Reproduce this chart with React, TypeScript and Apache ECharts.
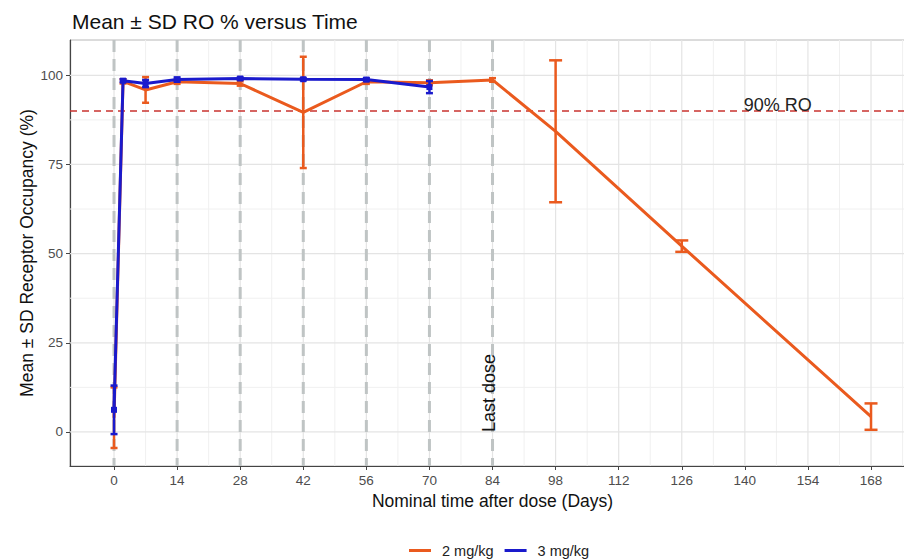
import React, { useEffect, useRef } from "react";
import * as echarts from "echarts";

// ---- Data ----
const days2mg = [0, 2, 7, 14, 28, 42, 56, 70, 84, 98, 126, 168];
const mean2mg = [4, 98.3, 95.9, 98.2, 97.7, 89.6, 98.2, 97.9, 98.7, 84.3, 52.1, 4.3];
const sd2mg = [8.5, 0.6, 3.6, 0.6, 0.6, 15.6, 0.6, 0.7, 0.5, 19.9, 1.6, 3.7];

const days3mg = [0, 2, 7, 14, 28, 42, 56, 70];
const mean3mg = [6.2, 98.5, 97.7, 98.8, 99.1, 98.9, 98.8, 96.7];
const sd3mg = [6.8, 0.4, 1.0, 0.6, 0.3, 0.3, 0.4, 1.7];

const xMajorTicks = [0, 14, 28, 42, 56, 70, 84, 98, 112, 126, 140, 154, 168];
const xMinorTicks = [7, 21, 35, 49, 63, 77, 91, 105, 119, 133, 147, 161, 175];
const yMajorTicks = [0, 25, 50, 75, 100];
const yMinorTicks = [12.5, 37.5, 62.5, 87.5];
const doseDays = [0, 14, 28, 42, 56, 70, 84];
const roThreshold = 90;
const lastDoseDay = 84;

const seriesNames = ["2 mg/kg", "3 mg/kg"];
const COLOR_2 = "#EA5A1E";
const COLOR_3 = "#1A1ACC";

const X_MIN = -9.77;
const X_MAX = 177.76;
const Y_MIN = -9.55;
const Y_MAX = 109.9;

const FONT = "'Liberation Sans', Arial, Helvetica, sans-serif";

function vLines(name: string, values: number[], color: string, width: number, dash?: number[], z = 1) {
  return {
    type: "custom",
    name,
    silent: true,
    z,
    clip: true,
    data: values.map((v) => [v, 0]),
    encode: { x: 0, y: 1 },
    renderItem: (params: any, api: any) => {
      const cs = params.coordSys;
      const x = api.coord([api.value(0), 0])[0];
      return {
        type: "line",
        shape: { x1: x, y1: cs.y, x2: x, y2: cs.y + cs.height },
        style: { stroke: color, lineWidth: width, lineDash: dash || null },
      };
    },
  };
}

function hLines(name: string, values: number[], color: string, width: number, dash?: number[], z = 1) {
  return {
    type: "custom",
    name,
    silent: true,
    z,
    clip: true,
    data: values.map((v) => [0, v]),
    encode: { x: 0, y: 1 },
    renderItem: (params: any, api: any) => {
      const cs = params.coordSys;
      const y = api.coord([0, api.value(1)])[1];
      return {
        type: "line",
        shape: { x1: cs.x, y1: y, x2: cs.x + cs.width, y2: y },
        style: { stroke: color, lineWidth: width, lineDash: dash || null },
      };
    },
  };
}

function errorBars(name: string, days: number[], means: number[], sds: number[], color: string, z: number) {
  return {
    type: "custom",
    name,
    silent: true,
    z,
    data: days.map((d, i) => [d, means[i] - sds[i], means[i] + sds[i]]),
    encode: { x: 0, y: [1, 2] },
    renderItem: (_params: any, api: any) => {
      const x = api.value(0);
      const lo = api.coord([x, api.value(1)]);
      const hi = api.coord([x, api.value(2)]);
      const hw = x > lastDoseDay ? 6.5 : 3.5;
      const st = { stroke: color, lineWidth: 2.5 };
      return {
        type: "group",
        children: [
          { type: "line", shape: { x1: lo[0], y1: lo[1], x2: hi[0], y2: hi[1] }, style: st },
          { type: "line", shape: { x1: lo[0] - hw, y1: lo[1], x2: lo[0] + hw, y2: lo[1] }, style: st },
          { type: "line", shape: { x1: hi[0] - hw, y1: hi[1], x2: hi[0] + hw, y2: hi[1] }, style: st },
        ],
      };
    },
  };
}

export default function App() {
  const ref = useRef<HTMLDivElement>(null);

  useEffect(() => {
    if (!ref.current) return;
    const chart = echarts.init(ref.current, null, { renderer: "svg" });

    const option: any = {
      animation: false,
      backgroundColor: "#FFFFFF",
      textStyle: { fontFamily: FONT },
      title: {
        text: "Mean ± SD RO % versus Time",
        left: 67,
        top: 6,
        textStyle: { fontFamily: FONT, fontSize: 21, fontWeight: "normal", color: "#111" },
      },
      legend: {
        left: 404,
        top: 538,
        icon: "rect",
        itemWidth: 22,
        itemHeight: 3,
        itemGap: 11,
        data: seriesNames,
        textStyle: { fontFamily: FONT, fontSize: 14.5, color: "#222", padding: [0, 0, 0, 6] },
      },
      grid: {
        left: 70,
        top: 40,
        width: 845,
        height: 426,
        outerBoundsMode: "none",
        containLabel: false,
        show: true,
        borderColor: "#B8B8B8",
        borderWidth: 1,
        backgroundColor: "#FFFFFF",
      },
      xAxis: {
        type: "value",
        min: X_MIN,
        max: X_MAX,
        name: "Nominal time after dose (Days)",
        nameLocation: "middle",
        nameGap: 23,
        nameTextStyle: { fontFamily: FONT, fontSize: 17.5, color: "#111" },
        axisLine: { show: true, onZero: false, lineStyle: { color: "#444", width: 1.2 } },
        axisTick: { show: true, customValues: xMajorTicks, length: 4, lineStyle: { color: "#444" } },
        axisLabel: { customValues: xMajorTicks, color: "#4D4D4D", fontSize: 13.5, margin: 7, fontFamily: FONT },
        splitLine: { show: false },
      },
      yAxis: {
        type: "value",
        min: Y_MIN,
        max: Y_MAX,
        name: "Mean ± SD Receptor Occupancy (%)",
        nameLocation: "middle",
        nameRotate: 90,
        nameGap: 34,
        nameMoveOverlap: false,
        nameTextStyle: { fontFamily: FONT, fontSize: 17.5, color: "#111" },
        axisLine: { show: true, onZero: false, lineStyle: { color: "#444", width: 1.2 } },
        axisTick: { show: true, customValues: yMajorTicks, length: 4, lineStyle: { color: "#444" } },
        axisLabel: { customValues: yMajorTicks, color: "#4D4D4D", fontSize: 13.5, margin: 7, fontFamily: FONT },
        splitLine: { show: false },
      },
      series: [
        vLines("gridMinorX", xMinorTicks, "#F0F0F0", 1, undefined, 1),
        hLines("gridMinorY", yMinorTicks, "#F0F0F0", 1, undefined, 1),
        vLines("gridMajorX", xMajorTicks, "#E4E4E4", 1.2, undefined, 1),
        hLines("gridMajorY", yMajorTicks, "#E4E4E4", 1.2, undefined, 1),
        vLines("doses", doseDays, "#BFC4C4", 3, [12, 7], 2),
        hLines("ro90", [roThreshold], "#C9332F", 1.5, [7, 5], 3),
        {
          type: "line",
          name: seriesNames[0],
          z: 4,
          data: days2mg.map((d, i) => [d, mean2mg[i]]),
          color: COLOR_2,
          lineStyle: { color: COLOR_2, width: 3 },
          symbol: "none",
          itemStyle: { color: COLOR_2 },
        },
        errorBars("err2", days2mg, mean2mg, sd2mg, COLOR_2, 4),
        {
          type: "line",
          name: seriesNames[1],
          z: 5,
          data: days3mg.map((d, i) => [d, mean3mg[i]]),
          color: COLOR_3,
          lineStyle: { color: COLOR_3, width: 3 },
          symbol: "rect",
          symbolSize: 6,
          itemStyle: { color: COLOR_3 },
        },
        errorBars("err3", days3mg, mean3mg, sd3mg, COLOR_3, 5),
      ],
    };

    chart.setOption(option);

    const pDose = chart.convertToPixel({ gridIndex: 0 }, [lastDoseDay, 0]) as number[];
    const pRo = chart.convertToPixel({ gridIndex: 0 }, [147.3, roThreshold]) as number[];
    chart.setOption({
      graphic: [
        {
          type: "text",
          x: pDose[0] - 4,
          y: pDose[1],
          rotation: Math.PI / 2,
          z: 10,
          style: {
            text: "Last dose",
            fontFamily: FONT,
            fontSize: 18,
            fill: "#111",
            align: "left",
            verticalAlign: "middle",
          },
        },
        {
          type: "text",
          x: pRo[0],
          y: pRo[1] - 6,
          z: 10,
          style: {
            text: "90% RO",
            fontFamily: FONT,
            fontSize: 18,
            fill: "#222",
            align: "center",
            verticalAlign: "middle",
          },
        },
      ],
    });

    return () => chart.dispose();
  }, []);

  return (
    <div
      ref={ref}
      style={{ position: "fixed", left: 0, top: 0, width: 904, height: 559 }}
    />
  );
}
